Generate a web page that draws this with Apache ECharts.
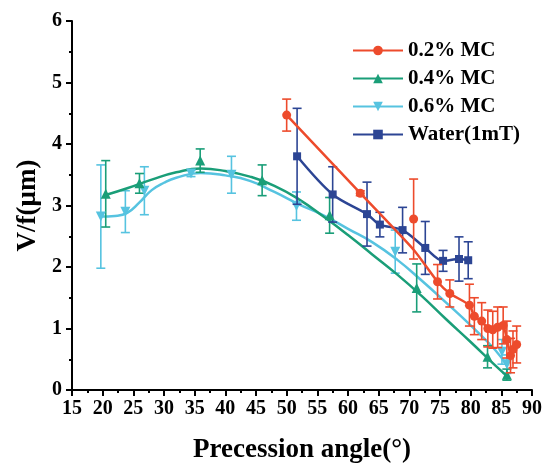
<!DOCTYPE html>
<html>
<head>
<meta charset="utf-8">
<script src="https://cdn.jsdelivr.net/npm/echarts@6/dist/echarts.min.js"></script>
<style>
  html, body { margin: 0; padding: 0; background: #fff; }
  #chart { width: 545px; height: 466px; }
</style>
</head>
<body>
<div id="chart"></div>
<script>
// 측정값 (x: 각도, y: V/f, err: 오차)
const mc02X = [50, 62, 70.7, 74.6, 76.6, 79.8, 80.6, 81.8, 82.8, 83.6, 84.4, 85.3, 85.9, 86.5, 86.9, 87.5];
const mc02Y = [4.47, 3.2, 2.78, 1.76, 1.57, 1.38, 1.2, 1.12, 1.0, 0.98, 1.02, 1.05, 0.82, 0.56, 0.66, 0.74];
const mc02Err = [0.26, 0.04, 0.65, 0.28, 0.22, 0.34, 0.3, 0.3, 0.3, 0.3, 0.33, 0.3, 0.3, 0.28, 0.3, 0.3];
const mc02LineX = [50, 62, 70.7, 74.6, 76.6, 79.8, 80.6, 81.8, 82.8, 83.6, 84.4, 85.3, 85.9, 86.5, 87.5];
const mc02LineY = [4.47, 3.2, 2.28, 1.76, 1.57, 1.38, 1.2, 1.12, 1.0, 0.98, 1.02, 1.05, 0.82, 0.6, 0.74];

const mc04X = [20.5, 26, 35.9, 46, 57, 71.2, 82.75, 85.9];
const mc04Y = [3.19, 3.36, 3.73, 3.41, 2.84, 1.66, 0.54, 0.25];
const mc04Err = [0.54, 0.16, 0.19, 0.25, 0.29, 0.39, 0.18, 0.09];
const mc04FitX = [20.5, 24, 28, 32, 36, 40, 44, 48, 52, 56, 60, 64, 68, 72, 76, 80, 84, 86];
const mc04FitY = [3.17, 3.28, 3.42, 3.54, 3.6, 3.56, 3.47, 3.32, 3.1, 2.82, 2.52, 2.2, 1.88, 1.53, 1.15, 0.78, 0.4, 0.22];

const mc06X = [19.7, 23.7, 26.8, 34.4, 41, 51.6, 67.7, 85.1, 85.9];
const mc06Y = [2.82, 2.9, 3.24, 3.52, 3.5, 2.99, 2.25, 0.62, 0.42];
const mc06Err = [0.84, 0.34, 0.39, 0.05, 0.3, 0.23, 0.35, 0.2, 0.15];
const mc06FitX = [19.7, 22, 24, 26, 28, 30, 32, 36, 40, 44, 48, 52, 56, 60, 64, 68, 72, 76, 80, 84, 86];
const mc06FitY = [2.82, 2.83, 2.88, 3.05, 3.25, 3.37, 3.45, 3.53, 3.49, 3.4, 3.22, 3.02, 2.84, 2.62, 2.4, 2.12, 1.78, 1.42, 1.05, 0.65, 0.38];

const waterX = [51.7, 57.5, 63.1, 65.2, 68.9, 72.6, 75.5, 78.1, 79.6];
const waterY = [3.8, 3.18, 2.86, 2.69, 2.6, 2.31, 2.1, 2.13, 2.11];
const waterErr = [0.78, 0.45, 0.52, 0.2, 0.37, 0.43, 0.17, 0.36, 0.3];

const names = ['0.2% MC', '0.4% MC', '0.6% MC', 'Water(1mT)'];
const colors = ['#ED4B2C', '#1A9E78', '#56C3E0', '#2C4594'];

const FONT = 'Liberation Serif';

function zip(xs, ys, es) {
    return xs.map((x, i) => es ? [x, ys[i], es[i]] : [x, ys[i]]);
}

// 오차 막대 그리기
function errRender(color) {
    return function (params, api) {
        let x = api.value(0), y = api.value(1), e = api.value(2);
        let top = api.coord([x, y + e]);
        let bot = api.coord([x, y - e]);
        let w = 4.5;
        let st = { stroke: color, lineWidth: 1.6 };
        return {
            type: 'group',
            children: [
                { type: 'line', shape: { x1: top[0], y1: top[1], x2: bot[0], y2: bot[1] }, style: st },
                { type: 'line', shape: { x1: top[0] - w, y1: top[1], x2: top[0] + w, y2: top[1] }, style: st },
                { type: 'line', shape: { x1: bot[0] - w, y1: bot[1], x2: bot[0] + w, y2: bot[1] }, style: st }
            ]
        };
    };
}

const sets = [
    { line: zip(mc02LineX, mc02LineY), pts: zip(mc02X, mc02Y, mc02Err), symbol: 'circle', size: 9, rot: 0, smooth: 0.2, z: 8 },
    { line: zip(mc04FitX, mc04FitY), pts: zip(mc04X, mc04Y, mc04Err), symbol: 'triangle', size: 10, rot: 0, smooth: 0.5, z: 5 },
    { line: zip(mc06FitX, mc06FitY), pts: zip(mc06X, mc06Y, mc06Err), symbol: 'triangle', size: 10, rot: 180, smooth: 0.5, z: 4 },
    { line: zip(waterX, waterY), pts: zip(waterX, waterY, waterErr), symbol: 'rect', size: 8, rot: 0, smooth: 0.3, z: 6 }
];

let series = [];
sets.forEach((s, i) => {
    series.push({
        name: names[i],
        type: 'line',
        data: s.line,
        smooth: s.smooth,
        showSymbol: false,
        symbol: s.symbol,
        symbolRotate: s.rot,
        lineStyle: { color: colors[i], width: 2.5 },
        itemStyle: { color: colors[i] },
        z: s.z,
        silent: true
    });
});
sets.forEach((s, i) => {
    series.push({
        name: names[i] + ' err',
        type: 'custom',
        data: s.pts,
        renderItem: errRender(colors[i]),
        z: s.z,
        silent: true
    });
    series.push({
        name: names[i] + ' pts',
        type: 'scatter',
        data: s.pts,
        symbol: s.symbol,
        symbolSize: s.size,
        symbolRotate: s.rot,
        itemStyle: { color: colors[i], opacity: 1 },
        z: s.z + 1,
        silent: true
    });
});

let myChart = echarts.init(document.getElementById('chart'));
let option = {
    animation: false,
    backgroundColor: '#fff',
    grid: { left: 72, right: 13, top: 21, bottom: 76, outerBoundsMode: 'none' },
    legend: {
        data: names,
        orient: 'vertical',
        left: 347,
        top: 35,
        itemWidth: 50,
        itemHeight: 12,
        itemGap: 7,
        textStyle: { fontFamily: FONT, fontWeight: 'bold', fontSize: 21, color: '#000' }
    },
    xAxis: {
        type: 'value',
        min: 15, max: 90, interval: 5,
        name: 'Precession angle(°)',
        nameLocation: 'middle',
        nameGap: 47,
        nameTextStyle: { fontFamily: FONT, fontWeight: 'bold', fontSize: 27, color: '#000' },
        axisLine: { show: true, onZero: false, lineStyle: { color: '#000', width: 2 } },
        axisTick: { show: true, inside: false, length: 6, lineStyle: { width: 2 } },
        minorTick: { show: true, splitNumber: 2, length: 3, lineStyle: { color: '#000', width: 2 } },
        splitLine: { show: false },
        axisLabel: { fontFamily: FONT, fontWeight: 'bold', fontSize: 20, color: '#000', margin: 9 }
    },
    yAxis: {
        type: 'value',
        min: 0, max: 6, interval: 1,
        name: 'V/f(μm)',
        nameLocation: 'middle',
        nameGap: 29,
        nameTextStyle: { fontFamily: FONT, fontWeight: 'bold', fontSize: 27, color: '#000' },
        axisLine: { show: true, onZero: false, lineStyle: { color: '#000', width: 2 } },
        axisTick: { show: true, inside: false, length: 6, lineStyle: { width: 2 } },
        minorTick: { show: true, splitNumber: 2, length: 3, lineStyle: { color: '#000', width: 2 } },
        splitLine: { show: false },
        axisLabel: { fontFamily: FONT, fontWeight: 'bold', fontSize: 20, color: '#000', margin: 10 }
    },
    series: series
};
option && myChart.setOption(option);
</script>
</body>
</html>
